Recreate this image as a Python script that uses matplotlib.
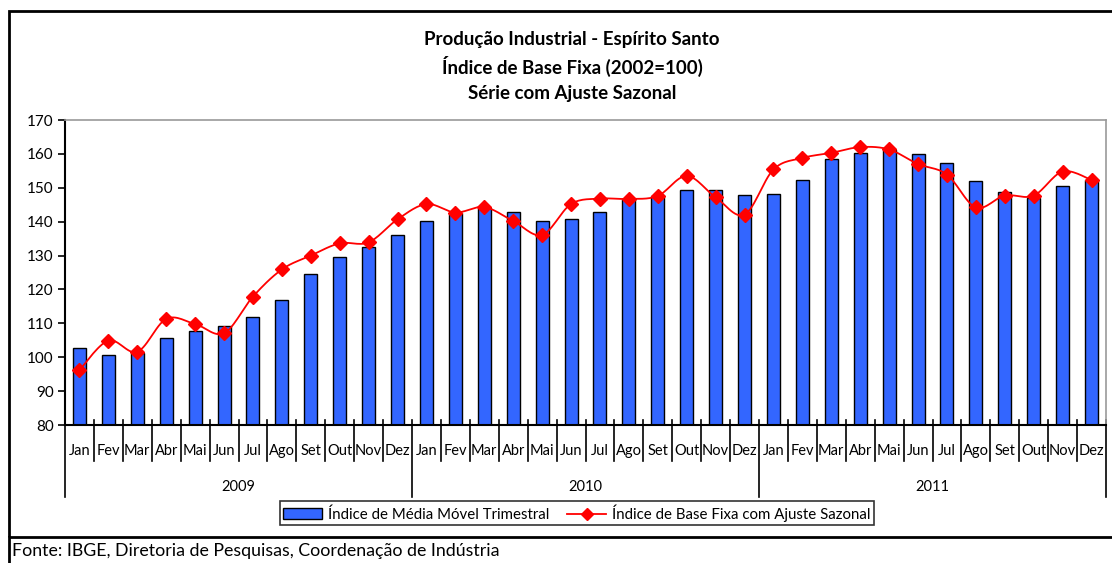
import numpy as np
import matplotlib
matplotlib.use('Agg')
import matplotlib.pyplot as plt
from matplotlib.lines import Line2D
from matplotlib.patches import Rectangle, Patch

plt.rcParams['font.family'] = ['Lato', 'DejaVu Sans']

# data
months = ['Jan', 'Fev', 'Mar', 'Abr', 'Mai', 'Jun', 'Jul', 'Ago', 'Set', 'Out', 'Nov', 'Dez']
years = ['2009', '2010', '2011']

media_movel = [102.6, 100.8, 101.1, 105.8, 107.8, 109.3, 111.9, 116.9, 124.5, 129.6, 132.6, 136.2,
               140.2, 142.7, 144.0, 142.8, 140.3, 140.8, 142.8, 146.7, 147.6, 149.3, 149.3, 147.8,
               148.2, 152.2, 158.4, 160.3, 161.2, 159.9, 157.4, 151.9, 148.9, 146.9, 150.4, 152.2]

base_fixa = [96.2, 104.9, 101.6, 111.3, 109.8, 107.1, 117.9, 125.9, 130.0, 133.6, 133.9, 140.7,
             145.2, 142.7, 144.3, 140.2, 136.1, 145.2, 146.8, 146.7, 147.6, 153.5, 147.2, 142.1,
             155.4, 158.8, 160.3, 162.0, 161.3, 157.0, 153.9, 144.2, 147.7, 147.7, 154.8, 152.3]


def smooth(x, y, n=16):
    # Excel-like smoothed line (cardinal bezier through the points)
    p = np.column_stack([x, y]).astype(float)
    out = [p[0]]
    for i in range(len(p) - 1):
        p0 = p[i - 1] if i > 0 else p[i]
        p1, p2 = p[i], p[i + 1]
        p3 = p[i + 2] if i + 2 < len(p) else p[i + 1]
        c1 = p1 + (p2 - p0) / 6
        c2 = p2 - (p3 - p1) / 6
        t = np.linspace(0, 1, n)[1:, None]
        seg = (1 - t) ** 3 * p1 + 3 * (1 - t) ** 2 * t * c1 + 3 * (1 - t) * t ** 2 * c2 + t ** 3 * p2
        out.extend(seg)
    out = np.array(out)
    return out[:, 0], out[:, 1]


W, H = 1112, 563
fig = plt.figure(figsize=(W / 100, H / 100), dpi=100)
ax = fig.add_axes([65 / W, 1 - 425 / H, (1106 - 65) / W, 305 / H])

x = np.arange(len(media_movel))
ax.bar(x, media_movel, width=0.45, color='#3366FF', edgecolor='black', linewidth=1.0, zorder=2)
sx, sy = smooth(x, base_fixa)
ax.plot(sx, sy, color='#FF0000', linewidth=1.3, zorder=3)
ax.plot(x, base_fixa, linestyle='none', marker='D', markersize=7, color='#FF0000', zorder=4)

ax.set_xlim(-0.5, len(x) - 0.5)
ax.set_ylim(80, 170)
ax.set_yticks(np.arange(80, 171, 10))
ax.tick_params(axis='y', direction='out', length=5, width=1.2, labelsize=11, pad=3)
ax.set_xticks([])
for s in ['top', 'right']:
    ax.spines[s].set_color('#999999')
    ax.spines[s].set_linewidth(1.2)
for s in ['left', 'bottom']:
    ax.spines[s].set_color('black')
    ax.spines[s].set_linewidth(1.5)

# category axis: month boundaries, month labels, year groups
tr = ax.get_xaxis_transform()
for k in range(len(x) + 1):
    b = k - 0.5
    low = -0.236 if k % 12 == 0 else -0.118
    ax.plot([b, b], [0.016, low], color='black', linewidth=1.2, transform=tr, clip_on=False)
for i in x:
    ax.text(i, -0.085, months[i % 12], transform=tr, ha='center', va='center', fontsize=10.5)
for j, yr in enumerate(years):
    ax.text(j * 12 + 5.5, -0.203, yr, transform=tr, ha='center', va='center', fontsize=10.5)

# titles
fig.text(572 / W, 1 - 40 / H, 'Produção Industrial - Espírito Santo', ha='center', va='center',
         fontsize=13.5, fontweight='bold')
fig.text(572 / W, 1 - 66 / H, 'Índice de Base Fixa (2002=100)', ha='center', va='center',
         fontsize=13.5, fontweight='bold')
fig.text(572 / W, 1 - 93 / H, 'Série com Ajuste Sazonal', ha='center', va='center',
         fontsize=13.5, fontweight='bold')

# legend
handles = [Patch(facecolor='#3366FF', edgecolor='black', linewidth=1.0),
           Line2D([], [], color='#FF0000', marker='D', markersize=6, linewidth=1.3)]
labels = ['Índice de Média Móvel Trimestral', 'Índice de Base Fixa com Ajuste Sazonal']
leg = fig.legend(handles, labels, loc='center', bbox_to_anchor=(577 / W, 1 - 513 / H), ncol=2,
                 fontsize=10.8, frameon=True, fancybox=False, edgecolor='black',
                 borderpad=0.2, handlelength=2.6, handletextpad=0.4, columnspacing=1.2)
leg.get_frame().set_linewidth(1.2)

# outer frame and source note
fig.add_artist(Rectangle((9 / W, 1 - 537 / H), 1.0, (537 - 11) / H, transform=fig.transFigure,
                         fill=False, edgecolor='black', linewidth=2))
fig.add_artist(Line2D([9 / W, 9 / W], [0, 1 - 537 / H], transform=fig.transFigure,
                      color='black', linewidth=2))
fig.text(12 / W, 1 - 551 / H, 'Fonte: IBGE, Diretoria de Pesquisas, Coordenação de Indústria',
         ha='left', va='center', fontsize=12.8)

fig.savefig('out.png', dpi=100)
